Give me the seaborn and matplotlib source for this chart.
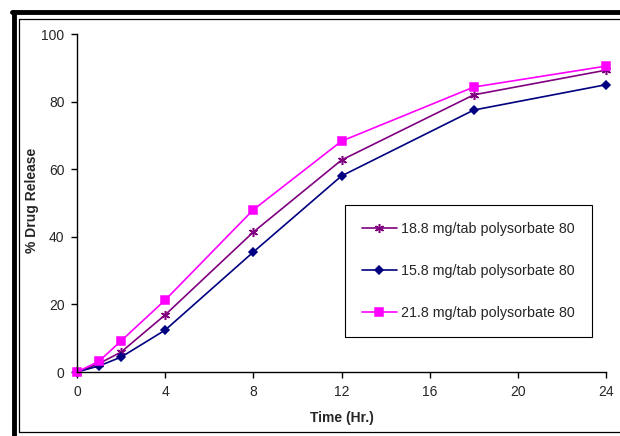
import matplotlib
matplotlib.use("Agg")
import matplotlib.pyplot as plt
from matplotlib.lines import Line2D
import seaborn as sns
import pandas as pd

time_hr = [0, 1, 2, 4, 8, 12, 18, 24]
rel_188 = [0, 2.5, 5.9, 16.9, 41.4, 62.7, 82.0, 89.3]
rel_158 = [0, 1.8, 4.4, 12.4, 35.5, 58.0, 77.5, 85.0]
rel_218 = [0, 3.2, 9.2, 21.3, 48.0, 68.3, 84.3, 90.5]
labels = ["18.8 mg/tab polysorbate 80", "15.8 mg/tab polysorbate 80", "21.8 mg/tab polysorbate 80"]
x_ticks = [0, 4, 8, 12, 16, 20, 24]
y_ticks = [0, 20, 40, 60, 80, 100]

rows = []
for lab, vals in zip(labels, [rel_188, rel_158, rel_218]):
    for t, v in zip(time_hr, vals):
        rows.append({"Time": t, "Release": v, "Series": lab})
df = pd.DataFrame(rows)

sns.set_style("white")
plt.rcParams["font.family"] = ["Liberation Sans", "DejaVu Sans"]

W, H = 620, 436
fig = plt.figure(figsize=(W / 100, H / 100), dpi=100)
ax_l, ax_r, ax_t, ax_b = 77, 606, 34, 372
ax = fig.add_axes([ax_l / W, (H - ax_b) / H, (ax_r - ax_l) / W, (ax_b - ax_t) / H])

palette = {labels[0]: "#800080", labels[1]: "#000080", labels[2]: "#FF00FF"}
markers = {labels[0]: (6, 2, 0), labels[1]: "D", labels[2]: "s"}
sizes = {labels[0]: 6.5, labels[1]: 4.5, labels[2]: 5.5}
for lab in labels:
    sub = df[df["Series"] == lab]
    sns.lineplot(data=sub, x="Time", y="Release", ax=ax, color=palette[lab],
                 marker=markers[lab], markersize=sizes[lab], markeredgewidth=1.1,
                 markeredgecolor=palette[lab], linewidth=1.2, label=lab)

ax.set_xlim(0, 24)
ax.set_ylim(0, 100)
ax.set_xticks(x_ticks)
ax.set_yticks(y_ticks)
ax.tick_params(axis="both", labelsize=10, length=4, width=1, color="black",
               direction="out", bottom=True, left=True, pad=5)
for s in ["top", "right"]:
    ax.spines[s].set_visible(False)
for s in ["left", "bottom"]:
    ax.spines[s].set_color("black")
    ax.spines[s].set_linewidth(1)
for ln in ax.lines:
    ln.set_clip_on(False)

ax.set_xlabel("Time (Hr.)", fontsize=10, fontweight="bold")
ax.set_ylabel("% Drug Release", fontsize=10, fontweight="bold")
ax.xaxis.set_label_coords((342 - ax_l) / (ax_r - ax_l), -(418 - ax_b) / (ax_b - ax_t))
ax.yaxis.set_label_coords(-(ax_l - 32) / (ax_r - ax_l), (ax_b - 200) / (ax_b - ax_t))
ax.xaxis.label.set_va("center")
ax.yaxis.label.set_va("center")

leg = ax.legend(loc="upper left", bbox_to_anchor=((345 - ax_l) / (ax_r - ax_l), (ax_b - 205) / (ax_b - ax_t)),
                fontsize=10.3, frameon=True, fancybox=False, framealpha=1,
                edgecolor="black", labelspacing=1.95, handlelength=2.4,
                handletextpad=0.3, borderpad=1.2, borderaxespad=0)
leg.get_frame().set_linewidth(0.8)

def fx(px):
    return px / W
def fy(py):
    return 1 - py / H
fig.add_artist(Line2D([fx(14), fx(14)], [fy(12), fy(436)], color="black", linewidth=3.5, transform=fig.transFigure))
fig.add_artist(Line2D([fx(12), fx(620)], [fy(12), fy(12)], color="black", linewidth=3.5, transform=fig.transFigure))
fig.add_artist(Line2D([fx(19.5), fx(19.5)], [fy(19.5), fy(432)], color="black", linewidth=0.9, transform=fig.transFigure))
fig.add_artist(Line2D([fx(19.5), fx(620)], [fy(19.5), fy(19.5)], color="black", linewidth=0.9, transform=fig.transFigure))
fig.add_artist(Line2D([fx(19.5), fx(620)], [fy(432), fy(432)], color="black", linewidth=0.9, transform=fig.transFigure))

fig.savefig("out.png", dpi=100, facecolor="white")
